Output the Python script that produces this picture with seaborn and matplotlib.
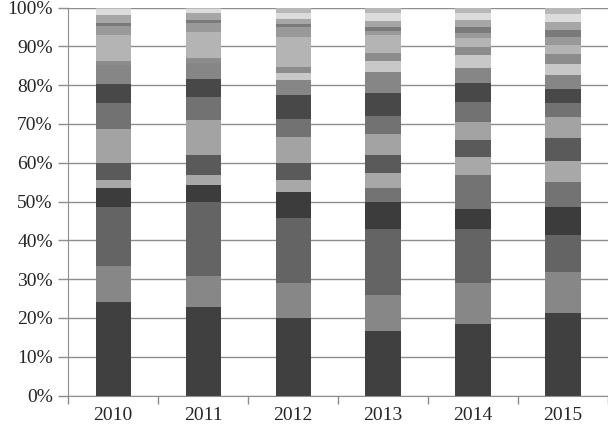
import pandas as pd
import numpy as np
import matplotlib
matplotlib.use("Agg")
import matplotlib.pyplot as plt
import seaborn as sns
from matplotlib.ticker import PercentFormatter, FixedLocator

# years on the x axis
years = ["2010", "2011", "2012", "2013", "2014", "2015"]

# share (%) of each of the 19 stacked segments, bottom to top, one list per year
share_2010 = [24.2, 9.2, 15.3, 4.7, 0.0, 2.1, 4.5, 8.6, 6.9, 4.7, 4.9, 0.0, 1.2, 6.6, 2.3, 0.9, 2.0, 1.4, 0.5]
share_2011 = [22.7, 8.1, 19.2, 4.3, 0.0, 2.5, 5.2, 9.0, 6.0, 4.7, 3.9, 0.0, 1.5, 6.7, 2.1, 0.9, 1.7, 1.0, 0.5]
share_2012 = [19.9, 9.2, 16.6, 6.8, 0.0, 3.0, 4.3, 6.7, 4.7, 6.2, 3.9, 1.9, 1.5, 7.8, 2.5, 0.7, 1.3, 1.5, 1.5]
share_2013 = [16.7, 9.2, 16.9, 7.2, 3.4, 3.9, 4.7, 5.4, 4.6, 6.0, 5.5, 2.8, 1.9, 4.7, 1.1, 1.0, 1.6, 1.9, 1.5]
share_2014 = [18.4, 10.7, 13.7, 5.2, 8.8, 4.7, 4.4, 4.7, 5.1, 4.8, 3.8, 3.5, 2.1, 2.2, 1.3, 1.7, 1.7, 1.7, 1.5]
share_2015 = [21.2, 10.7, 9.5, 7.1, 6.6, 5.4, 5.8, 5.4, 3.6, 3.6, 3.7, 2.8, 2.5, 2.4, 2.0, 1.9, 2.1, 2.0, 1.7]

series = [f"S{i + 1}" for i in range(19)]

# grey shade of each segment (excel style greyscale)
greys = ["#404040", "#878787", "#646464", "#3c3c3c", "#737373", "#a8a8a8", "#5a5a5a",
         "#a3a3a3", "#727272", "#484848", "#868686", "#c8c8c8", "#8c8c8c", "#b4b4b4",
         "#999999", "#7a7a7a", "#a6a6a6", "#dcdcdc", "#b8b8b8"]

# long table, then running total per year so bars can be layered
shares = [share_2010, share_2011, share_2012, share_2013, share_2014, share_2015]
rows = []
for year, vals in zip(years, shares):
    for s, v in zip(series, vals):
        rows.append({"year": year, "series": s, "share": v})
df = pd.DataFrame(rows)
df["top"] = df.groupby("year")["share"].cumsum()

sns.set_style("white")
plt.rcParams["font.family"] = ["Liberation Serif", "DejaVu Serif"]

fig = plt.figure(figsize=(6.08, 4.29), dpi=100)
ax = fig.add_axes([0.112, 0.078, 0.888, 0.9045])

# draw from the top segment down, each cumulative bar covers the one below
for s, c in reversed(list(zip(series, greys))):
    part = df[df["series"] == s]
    sns.barplot(data=part, x="year", y="top", order=years, color=c,
                width=0.39, edgecolor="none", linewidth=0, ax=ax, zorder=2)

ax.set_xlim(-0.5, 5.5)
ax.set_ylim(0, 100)
ax.set_yticks(np.arange(0, 101, 10))
ax.yaxis.set_major_formatter(PercentFormatter(decimals=0))
ax.grid(axis="y", color="#8e8e8e", linewidth=1.0)
ax.set_axisbelow(True)
ax.set_xlabel("")
ax.set_ylabel("")

# excel style: tick marks between the categories, none under the labels
ax.xaxis.set_minor_locator(FixedLocator(np.arange(-0.5, 6, 1)))
ax.tick_params(axis="x", which="major", length=0, pad=8, labelsize=14)
ax.tick_params(axis="x", which="minor", length=6, width=1, color="#8e8e8e", direction="out", bottom=True)
ax.tick_params(axis="y", which="major", length=7, width=1, color="#8e8e8e", direction="out",
               left=True, pad=4, labelsize=14)

for side in ["top", "right"]:
    ax.spines[side].set_visible(False)
ax.spines["left"].set_color("#8e8e8e")
ax.spines["bottom"].set_color("#8e8e8e")

fig.savefig("out.png", dpi=100)
